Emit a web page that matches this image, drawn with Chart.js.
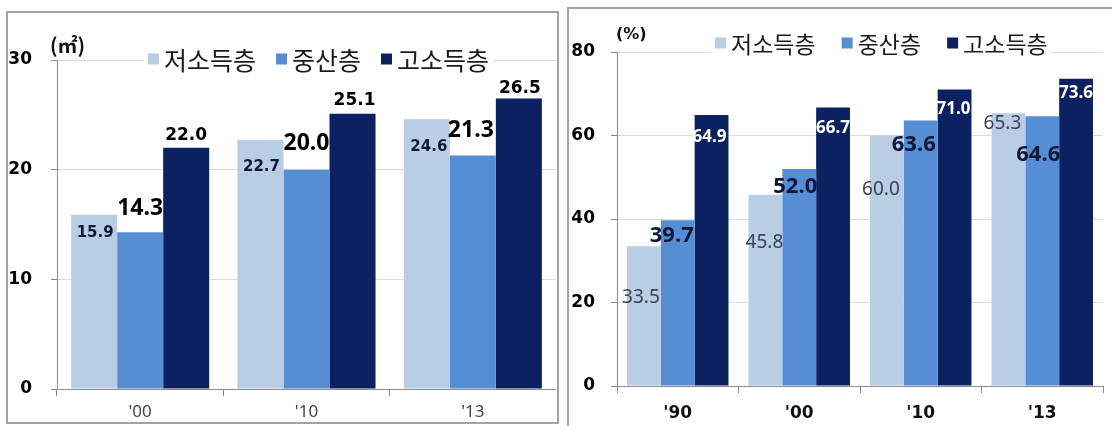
<!DOCTYPE html>
<html>
<head>
<meta charset="UTF-8">
<title>소득계층별 주거면적 · 자가보유율</title>
<script src="https://cdn.jsdelivr.net/npm/chart.js"></script>
<style>
  body { margin: 0; background: #fff; width: 1112px; height: 426px; overflow: hidden; position: relative; }
  .panel { position: absolute; border: 2px solid #a3a3a3; background: #fff; box-sizing: border-box; }
  #leftPanel { left: 6px; top: 11px; width: 553px; height: 413px; }
  #rightPanel { left: 567px; top: 7px; width: 560px; height: 440px; }
  canvas { position: absolute; }
  #areaChart { left: 8px; top: 13px; }
  #ownChart { left: 569px; top: 9px; }
</style>
</head>
<body>
<div class="panel" id="leftPanel"></div>
<div class="panel" id="rightPanel"></div>
<canvas id="areaChart" width="548" height="409"></canvas>
<canvas id="ownChart" width="543" height="417"></canvas>

<script>
// Data: 1인당 주거면적 (㎡)
const areaYears = ["'00", "'10", "'13"];
const areaLow = [15.9, 22.7, 24.6];
const areaMid = [14.3, 20.0, 21.3];
const areaHigh = [22.0, 25.1, 26.5];
const areaTicks = [0, 10, 20, 30];

// Data: 자가보유율 (%)
const ownYears = ["'90", "'00", "'10", "'13"];
const ownLow = [33.5, 45.8, 60.0, 65.3];
const ownMid = [39.7, 52.0, 63.6, 64.6];
const ownHigh = [64.9, 66.7, 71.0, 73.6];
const ownTicks = [0, 20, 40, 60, 80];

const seriesNames = ['저소득층', '중산층', '고소득층'];
const seriesColors = ['#B9CDE5', '#558ED5', '#0C2161'];

Chart.defaults.font.family = "'DejaVu Sans', sans-serif";

// Draws value labels next to each bar (offsets in px from the bar top)
const barLabels = {
  id: 'barLabels',
  afterDatasetsDraw(chart, args, opts) {
    const ctx = chart.ctx;
    chart.data.datasets.forEach((ds, i) => {
      const st = opts.styles[i];
      chart.getDatasetMeta(i).data.forEach((bar, j) => {
        ctx.save();
        ctx.font = st.font;
        ctx.fillStyle = st.color;
        ctx.textAlign = 'center';
        ctx.textBaseline = 'middle';
        ctx.fillText(ds.data[j].toFixed(1), bar.x + st.dx[j], bar.y + st.dy[j]);
        ctx.restore();
      });
    });
  }
};

// Unit text and the legend row on top of the plot
const panelText = {
  id: 'panelText',
  afterDraw(chart, args, opts) {
    const ctx = chart.ctx;
    ctx.save();
    ctx.font = opts.unitFont;
    ctx.fillStyle = '#111';
    ctx.textAlign = 'left';
    ctx.textBaseline = 'middle';
    ctx.fillText(opts.unit, opts.unitX, opts.unitY);

    ctx.font = opts.legendFont;
    let widths = seriesNames.map(n => ctx.measureText(n).width);
    let total = widths.reduce((a, b) => a + b, 0) + seriesNames.length * (opts.box + opts.boxGap) + (seriesNames.length - 1) * opts.itemGap;
    ctx.fillStyle = '#fff';
    ctx.fillRect(opts.legendX - 4, opts.legendY - 14, total + 8, 28);

    let x = opts.legendX;
    seriesNames.forEach((name, i) => {
      ctx.fillStyle = seriesColors[i];
      ctx.fillRect(x, opts.legendY - opts.box / 2, opts.box, opts.box);
      x += opts.box + opts.boxGap;
      ctx.fillStyle = '#1a1a1a';
      ctx.fillText(name, x, opts.legendY + 1);
      x += widths[i] + opts.itemGap;
    });
    ctx.restore();
  }
};

function makeDatasets(low, mid, high) {
  return [low, mid, high].map((values, i) => ({
    label: seriesNames[i],
    data: values,
    backgroundColor: seriesColors[i],
    borderWidth: 0
  }));
}

function makeOptions(cfg) {
  return {
    responsive: false,
    animation: false,
    layout: { padding: { top: cfg.top, right: cfg.right, left: 0, bottom: 0 } },
    scales: {
      x: {
        grid: { offset: true, drawOnChartArea: false, tickLength: 7, tickColor: '#8a8a8a' },
        border: { color: '#8a8a8a' },
        ticks: { font: cfg.xFont, color: cfg.xColor, padding: cfg.xPad },
        afterFit: s => { s.height = cfg.xHeight; }
      },
      y: {
        min: cfg.ticks[0],
        max: cfg.ticks[cfg.ticks.length - 1],
        ticks: { stepSize: cfg.ticks[1] - cfg.ticks[0], font: { size: 17, weight: 'bold' }, color: '#000', padding: cfg.yPad },
        grid: { color: '#dcdcdc', tickLength: 6, tickColor: '#8a8a8a' },
        border: { color: '#8a8a8a' },
        afterFit: s => { s.width = cfg.yWidth; }
      }
    },
    datasets: { bar: { categoryPercentage: cfg.catPct, barPercentage: 1 } },
    plugins: {
      legend: { display: false },
      tooltip: { enabled: false },
      barLabels: { styles: cfg.labelStyles },
      panelText: cfg.text
    }
  };
}

// Left chart: floor area per person
new Chart(document.getElementById('areaChart'), {
  type: 'bar',
  data: { labels: areaYears, datasets: makeDatasets(areaLow, areaMid, areaHigh) },
  plugins: [barLabels, panelText],
  options: makeOptions({
    top: 47, right: 0, xHeight: 33, yWidth: 49, yPad: 19, xPad: 6,
    xFont: { family: "'Noto Sans', sans-serif", size: 17 }, xColor: '#444',
    ticks: areaTicks, catPct: 0.83,
    labelStyles: [
      { font: 'bold 15px "DejaVu Sans"', color: '#10183a', dx: [1, 1, 2], dy: [18, 27, 28] },
      { font: 'bold 23px "Noto Sans"', color: '#000', dx: [0, 0, -2], dy: [-24, -26, -25] },
      { font: 'bold 17px "DejaVu Sans"', color: '#000', dx: [0, 2, 1], dy: [-12, -13, -10] }
    ],
    text: {
      unit: '(㎡)', unitFont: 'bold 20px "Noto Sans CJK KR"', unitX: 42, unitY: 32,
      legendFont: '25px "Noto Sans CJK KR"', legendX: 140, legendY: 46, box: 11, boxGap: 5, itemGap: 20
    }
  })
});

// Right chart: home ownership rate
new Chart(document.getElementById('ownChart'), {
  type: 'bar',
  data: { labels: ownYears, datasets: makeDatasets(ownLow, ownMid, ownHigh) },
  plugins: [barLabels, panelText],
  options: makeOptions({
    top: 43, right: 9, xHeight: 40, yWidth: 48, yPad: 16, xPad: 10,
    xFont: { family: "'DejaVu Sans', sans-serif", size: 17, weight: 'bold' }, xColor: '#111',
    ticks: ownTicks, catPct: 0.835,
    labelStyles: [
      { font: '19px "Noto Sans"', color: '#3c4254', dx: [-3, -1, -6, -6], dy: [51, 48, 54, 10] },
      { font: 'bold 22px "Noto Sans"', color: '#0d1738', dx: [-6, -4, -7, -4], dy: [15, 18, 24, 38] },
      { font: 'bold 17px "Noto Sans"', color: '#fff', dx: [-2, 0, -1, 0], dy: [22, 21, 20, 14] }
    ],
    text: {
      unit: '(%)', unitFont: 'bold 16px "DejaVu Sans"', unitX: 47, unitY: 26,
      legendFont: '23px "Noto Sans CJK KR"', legendX: 146, legendY: 34, box: 11, boxGap: 5, itemGap: 26
    }
  })
});
</script>
</body>
</html>
